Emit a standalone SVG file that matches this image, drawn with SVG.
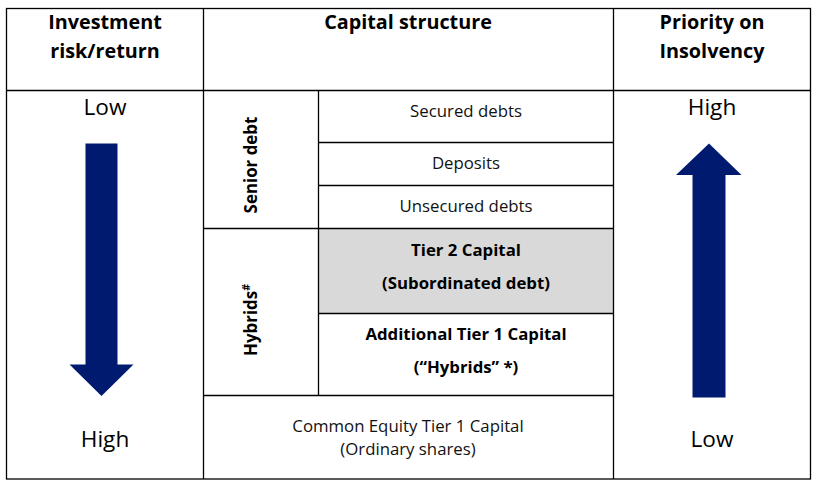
<svg xmlns="http://www.w3.org/2000/svg" width="822" height="490" viewBox="0 0 822 490">
<style>
.ln{stroke:#000;stroke-width:1.3;fill:none}
.h{font-family:"Open Sans","Noto Sans",sans-serif;font-weight:bold;font-size:19.8px;fill:#000;text-anchor:middle}
.big{font-family:"Open Sans","Noto Sans",sans-serif;font-size:22.6px;fill:#000;text-anchor:middle}
.t{font-family:"Open Sans","Noto Sans",sans-serif;font-size:16.8px;fill:#111;text-anchor:middle}
.b{font-family:"Open Sans","Noto Sans",sans-serif;font-size:16.8px;font-weight:bold;fill:#000;text-anchor:middle}
.v{font-family:"Open Sans","Noto Sans",sans-serif;font-size:16.9px;font-weight:bold;fill:#000;text-anchor:middle}
.arr{fill:#001a70}
</style>
<rect width="822" height="490" fill="#fff"/>
<g id="tier2-fill"><rect x="318.5" y="228.5" width="295" height="85" fill="#d9d9d9"/></g>
<g id="grid">
<rect class="ln" x="6.5" y="8.5" width="804" height="470.5"/>
<line class="ln" x1="6.5" y1="90.5" x2="810.5" y2="90.5"/>
<line class="ln" x1="203.5" y1="8.5" x2="203.5" y2="479"/>
<line class="ln" x1="613.5" y1="8.5" x2="613.5" y2="479"/>
<line class="ln" x1="318.5" y1="90.5" x2="318.5" y2="395.5"/>
<line class="ln" x1="318.5" y1="142.5" x2="613.5" y2="142.5"/>
<line class="ln" x1="318.5" y1="185.5" x2="613.5" y2="185.5"/>
<line class="ln" x1="203.5" y1="228.5" x2="613.5" y2="228.5"/>
<line class="ln" x1="318.5" y1="313.5" x2="613.5" y2="313.5"/>
<line class="ln" x1="203.5" y1="395.5" x2="613.5" y2="395.5"/>
</g>
<g id="headers">
<text class="h" x="105" y="29">Investment</text>
<text class="h" x="105" y="58">risk/return</text>
<text class="h" x="408" y="29">Capital structure</text>
<text class="h" x="712" y="29">Priority on</text>
<text class="h" x="712" y="58">Insolvency</text>
</g>
<g id="risk-col">
<text class="big" x="105" y="115">Low</text>
<polygon class="arr" points="85.5,143.5 117.5,143.5 117.5,364.5 133.5,364.5 101.5,396 69.5,364.5 85.5,364.5"/>
<text class="big" x="105" y="447">High</text>
</g>
<g id="priority-col">
<text class="big" x="712" y="115">High</text>
<polygon class="arr" points="709,143.5 741.5,175 725.5,175 725.5,397.5 692.5,397.5 692.5,175 676,175"/>
<text class="big" x="712" y="447">Low</text>
</g>
<g id="senior-debt">
<text class="v" transform="translate(256.5,165) rotate(-90)">Senior debt</text>
<text class="t" x="466" y="117">Secured debts</text>
<text class="t" x="466" y="169">Deposits</text>
<text class="t" x="466" y="212">Unsecured debts</text>
</g>
<g id="hybrids">
<text class="v" transform="translate(256.5,320) rotate(-90)">Hybrids<tspan font-size="10.5" dy="-7">#</tspan></text>
<text class="b" x="466" y="256">Tier 2 Capital</text>
<text class="b" x="466" y="289">(Subordinated debt)</text>
<text class="b" x="466" y="340">Additional Tier 1 Capital</text>
<text class="b" x="466" y="373">(“Hybrids” *)</text>
</g>
<g id="cet1">
<text class="t" x="408" y="432">Common Equity Tier 1 Capital</text>
<text class="t" x="408" y="455">(Ordinary shares)</text>
</g>
</svg>
